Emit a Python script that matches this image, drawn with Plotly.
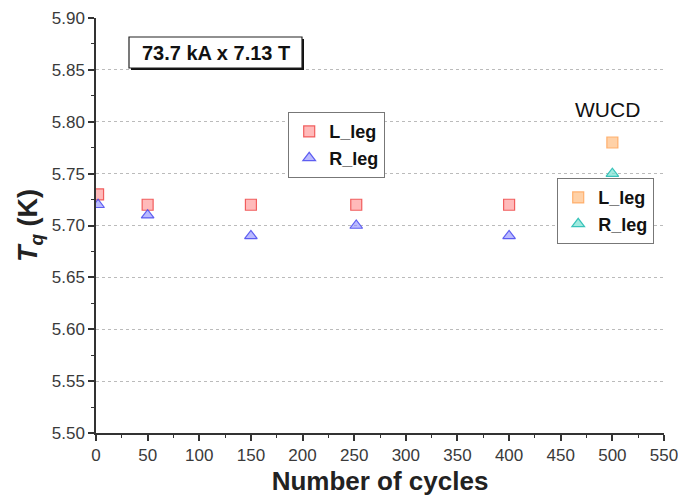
import plotly.graph_objects as go

cycles_main = [2, 50, 150, 252, 400]
l_leg = [5.73, 5.72, 5.72, 5.72, 5.72]
r_leg = [5.72, 5.71, 5.69, 5.70, 5.69]
cycles_wucd = [500]
l_leg_wucd = [5.78]
r_leg_wucd = [5.75]

x_ticks = list(range(0, 551, 50))
y_ticks = [5.50, 5.55, 5.60, 5.65, 5.70, 5.75, 5.80, 5.85, 5.90]

FONT = "Liberation Sans, Arial"
L, R, T, B = 96, 664, 18, 433


def px(x):
    return (x - L) / (R - L)


def py(y):
    return (B - y) / (B - T)


fig = go.Figure()


def mk(symbol, fill, line):
    return dict(symbol=symbol, size=11, color=fill, line=dict(color=line, width=1.2))


fig.add_trace(go.Scatter(x=cycles_main, y=l_leg, mode="markers", name="L_leg",
                         marker=mk("square", "rgba(255,140,140,0.6)", "rgba(240,80,80,0.9)"),
                         legend="legend"))
fig.add_trace(go.Scatter(x=cycles_main, y=r_leg, mode="markers", name="R_leg",
                         marker=mk("triangle-up", "rgba(140,140,255,0.6)", "rgba(80,80,240,0.9)"),
                         legend="legend"))
fig.add_trace(go.Scatter(x=cycles_wucd, y=l_leg_wucd, mode="markers", name="L_leg",
                         marker=mk("square", "rgba(255,190,130,0.7)", "rgba(255,170,100,0.9)"),
                         legend="legend2"))
fig.add_trace(go.Scatter(x=cycles_wucd, y=r_leg_wucd, mode="markers", name="R_leg",
                         marker=mk("triangle-up", "rgba(120,225,210,0.7)", "rgba(40,190,180,0.9)"),
                         legend="legend2"))

tickfont = dict(family=FONT, size=17, color="#3a3a3a")
axis_common = dict(showline=True, linecolor="#333", linewidth=1.5, mirror=False,
                   ticks="outside", ticklen=6, tickwidth=1.5, tickcolor="#333",
                   tickfont=tickfont, zeroline=False, automargin=False,
                   ticklabeloverflow="allow")

fig.update_xaxes(range=[0, 550], tickvals=x_ticks, showgrid=False,
                 minor=dict(ticks="outside", ticklen=3, tickwidth=1.2, tickcolor="#333", dtick=25, showgrid=False),
                 title=dict(text="<b>Number of cycles</b>", font=dict(family=FONT, size=26, color="#222"), standoff=8),
                 **axis_common)
fig.update_yaxes(range=[5.50, 5.90], tickvals=y_ticks, ticktext=[f"{v:.2f}" for v in y_ticks],
                 showgrid=True, gridcolor="#bbb", griddash="dot", gridwidth=1,
                 minor=dict(ticks="outside", ticklen=3, tickwidth=1.2, tickcolor="#333", dtick=0.025, showgrid=False),
                 title=dict(text="<b><i>T</i><sub><i>q</i></sub> (K)</b>", font=dict(family=FONT, size=27, color="#222"), standoff=6),
                 **axis_common)

# inward ticks on the top and right edges
fig.update_layout(
    xaxis2=dict(overlaying="x", side="top", range=[0, 550], tickvals=x_ticks, showticklabels=False,
                ticks="inside", ticklen=6, tickwidth=1.5, tickcolor="#333", showgrid=False, zeroline=False,
                showline=True, linecolor="#333", linewidth=1.5, automargin=False,
                minor=dict(ticks="inside", ticklen=3, tickwidth=1.2, tickcolor="#333", dtick=25)),
    yaxis2=dict(overlaying="y", side="right", range=[5.50, 5.90], tickvals=y_ticks, showticklabels=False,
                ticks="inside", ticklen=6, tickwidth=1.5, tickcolor="#333", showgrid=False, zeroline=False,
                showline=True, linecolor="#333", linewidth=1.5, automargin=False,
                minor=dict(ticks="inside", ticklen=3, tickwidth=1.2, tickcolor="#333", dtick=0.025)),
)

legend_common = dict(bgcolor="white", bordercolor="#777", borderwidth=1.2,
                     font=dict(family=FONT, size=18, color="#111", weight="bold"),
                     itemwidth=30, tracegroupgap=0, xanchor="left", yanchor="top")

fig.update_layout(
    width=678, height=504,
    margin=dict(l=L, r=678 - R, t=T, b=504 - B),
    plot_bgcolor="white", paper_bgcolor="white",
    showlegend=True,
    legend=dict(x=px(288), y=py(112), **legend_common),
    legend2=dict(x=px(557), y=py(178), **legend_common),
    shapes=[
        dict(type="rect", xref="paper", yref="paper", x0=px(131), x1=px(304), y0=py(70), y1=py(39),
             fillcolor="#111", line=dict(width=0), layer="above"),
        dict(type="rect", xref="paper", yref="paper", x0=px(129), x1=px(302), y0=py(68), y1=py(37),
             fillcolor="white", line=dict(color="#222", width=1.2), layer="above"),
    ],
    annotations=[
        dict(text="<b>73.7 kA x 7.13 T</b>", xref="paper", yref="paper",
             x=px(215.5), y=py(52.5), xanchor="center", yanchor="middle",
             showarrow=False, font=dict(family=FONT, size=20, color="#111")),
        dict(text="WUCD", xref="paper", yref="paper",
             x=px(607), y=py(110), xanchor="center", yanchor="middle",
             showarrow=False, font=dict(family=FONT, size=21, color="#111")),
    ],
)

fig.write_html("out.html")
